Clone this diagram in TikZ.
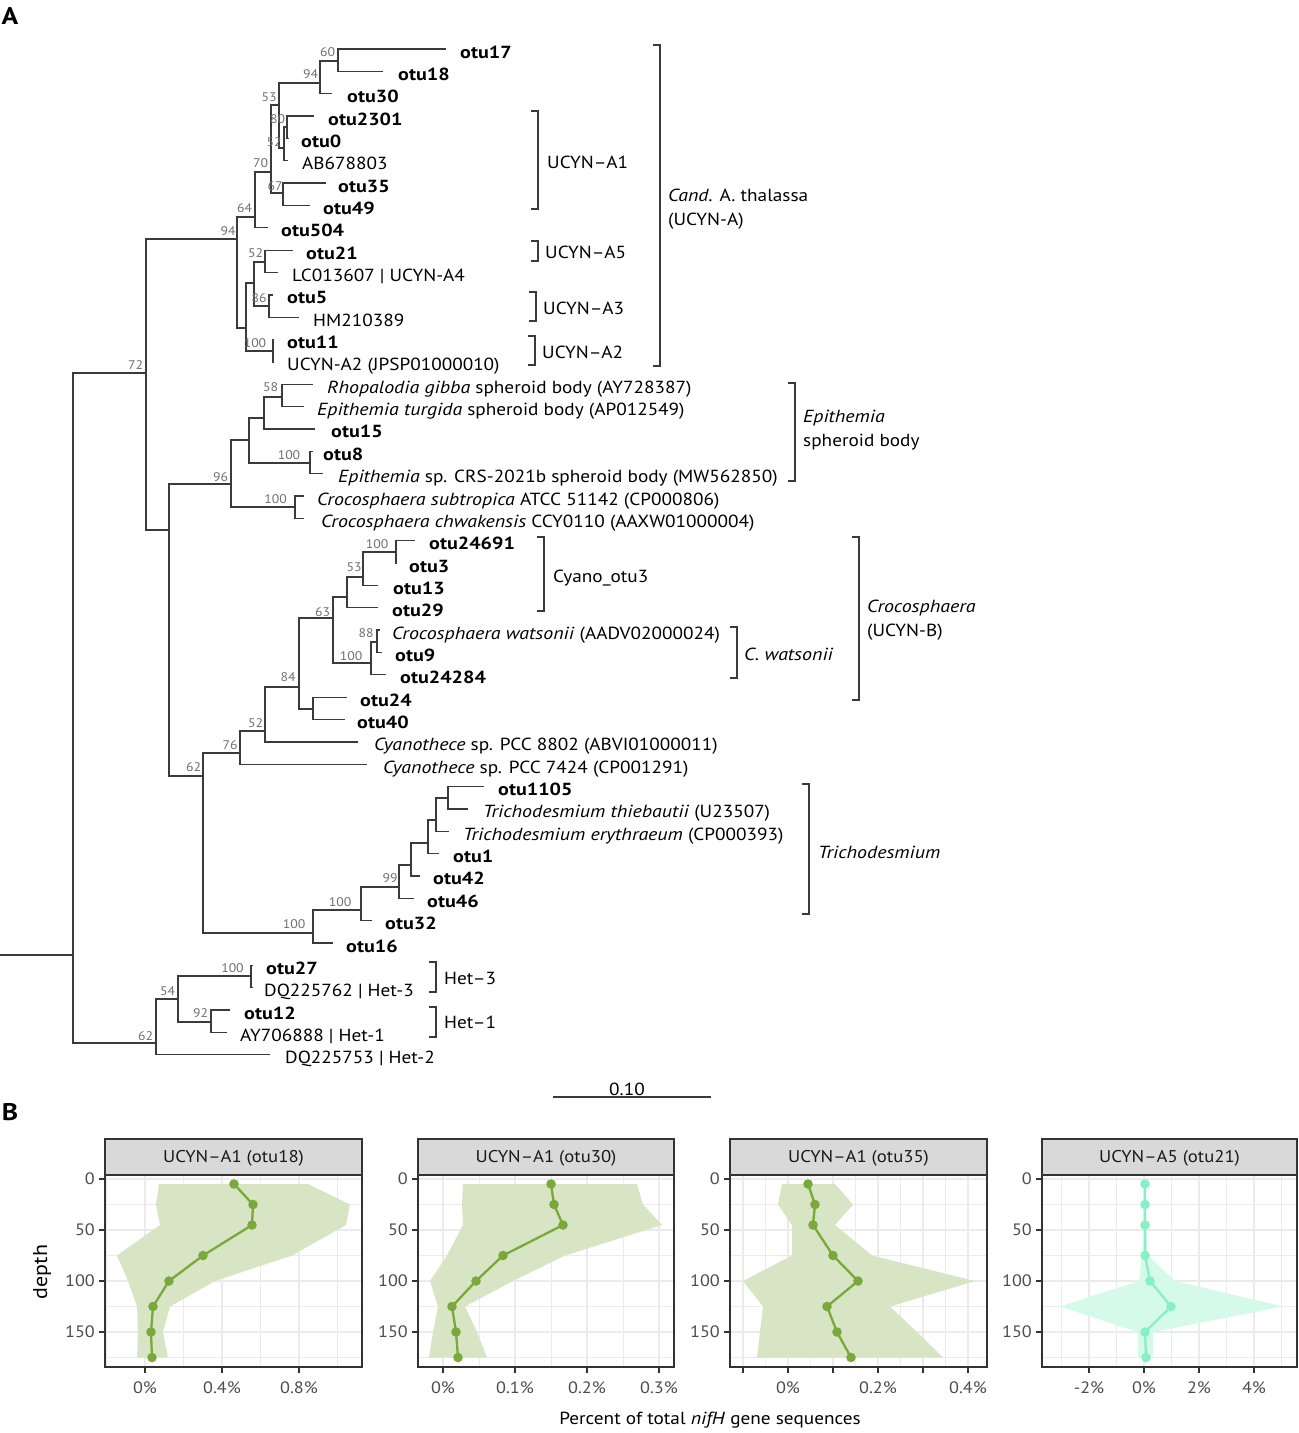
\documentclass[tikz,border=0pt]{standalone}
\usepackage{fontspec}
\setmainfont{PT Sans}[FakeStretch=1.1, BoldFeatures={FakeStretch=1.15}, ItalicFeatures={FakeStretch=1.14}]
\definecolor{brc}{HTML}{3A3A3A}
\definecolor{bootc}{HTML}{707070}
\definecolor{grn}{HTML}{7BA83B}
\definecolor{grnrib}{HTML}{D7E5C4}
\definecolor{mint}{HTML}{87F0C6}
\definecolor{mintrib}{HTML}{D6FAEA}
\definecolor{gridc}{HTML}{EBEBEB}
\definecolor{axc}{HTML}{4D4D4D}
\definecolor{frc}{HTML}{333333}
\definecolor{stripc}{HTML}{D9D9D9}
\newcommand\Tp[5]{%
  \coordinate (#1) at (#3,{49+22.35*#2});
  \node[tiplab] (#1l) at ({#3+#4},{58+22.35*#2}) {#5};}
\newcommand\In[3]{\coordinate (#1) at (#2,#3);}
\newcommand\Bs[4]{\node[boot] (#1) at (#2,#3) {#4};}
\newcommand\E[2]{\draw[br] (#1) |- (#2);}
\newcommand\Brk[3]{\draw[brk] ({#1-7},#2) -- (#1,#2) -- (#1,#3) -- ({#1-7},#3);}
\begin{document}
\begin{tikzpicture}[x=1pt,y=-1pt,
  br/.style={draw=brc, line width=1.3pt},
  brk/.style={draw=brc, line width=1.2pt},
  boot/.style={font=\fontsize{12.5}{13}\selectfont, text=bootc, inner sep=0},
  tiplab/.style={anchor=base west, inner sep=0, font=\fontsize{17.5}{20}\selectfont},
  grp/.style={anchor=base west, inner sep=0, font=\fontsize{17.5}{20}\selectfont},
  grp2/.style={anchor=west, inner sep=0, align=left, font=\fontsize{17.5}{24}\selectfont},
  gmaj/.style={draw=gridc, line width=1.3pt},
  gmin/.style={draw=gridc, line width=0.7pt},
  frame/.style={draw=frc, line width=1.1pt},
  tk/.style={draw=frc, line width=1.1pt},
  ylab/.style={anchor=east, inner sep=0, text=axc, font=\fontsize{16.5}{17}\selectfont},
  xlab/.style={anchor=center, inner sep=0, text=axc, font=\fontsize{16.5}{17}\selectfont},
  strip/.style={fill=stripc, draw=frc, line width=1.1pt},
  striptxt/.style={inner sep=0, text=black!90, font=\fontsize{17}{17}\selectfont},
  gline/.style={draw=grn, line width=2.3pt, line join=round},
  mline/.style={draw=mint, line width=2.3pt, line join=round},
]
\useasboundingbox (0,0) rectangle (1299,1433);
\fill[white] (0,0) rectangle (1299,1433);

% ---------------- panel letters
\node[inner sep=0, font=\fontsize{24}{24}\selectfont\bfseries] (lA) at (10,16) {A};
\node[inner sep=0, font=\fontsize{24}{24}\selectfont\bfseries] (lB) at (10,1112) {B};

% ---------------- tips
\Tp{t0}{0}{446}{14}{\bfseries otu17}
\Tp{t1}{1}{383}{15}{\bfseries otu18}
\Tp{t2}{2}{332}{15}{\bfseries otu30}
\Tp{t3}{3}{314}{14}{\bfseries otu2301}
\Tp{t4}{4}{289}{12}{\bfseries otu0}
\Tp{t5}{5}{288}{14}{AB678803}
\Tp{t6}{6}{326}{12}{\bfseries otu35}
\Tp{t7}{7}{310}{13}{\bfseries otu49}
\Tp{t8}{8}{268}{13}{\bfseries otu504}
\Tp{t9}{9}{293}{13}{\bfseries otu21}
\Tp{t10}{10}{278}{14}{LC013607 \textbar{} UCYN-A4}
\Tp{t11}{11}{273}{14}{\bfseries otu5}
\Tp{t12}{12}{299}{14}{HM210389}
\Tp{t13}{13}{274}{13}{\bfseries otu11}
\Tp{t14}{14}{274}{13}{UCYN-A2 (JPSP01000010)}
\Tp{t15}{15}{313}{14}{\textit{Rhopalodia gibba} spheroid body (AY728387)}
\Tp{t16}{16}{304}{13}{\textit{Epithemia turgida} spheroid body (AP012549)}
\Tp{t17}{17}{315}{16}{\bfseries otu15}
\Tp{t18}{18}{313}{10}{\bfseries otu8}
\Tp{t19}{19}{323}{15}{\textit{Epithemia} sp. CRS-2021b spheroid body (MW562850)}
\Tp{t20}{20}{304}{13}{\textit{Crocosphaera subtropica} ATCC 51142 (CP000806)}
\Tp{t21}{21}{304}{17}{\textit{Crocosphaera chwakensis} CCY0110 (AAXW01000004)}
\Tp{t22}{22}{415}{14}{\bfseries otu24691}
\Tp{t23}{23}{397}{12}{\bfseries otu3}
\Tp{t24}{24}{378}{15}{\bfseries otu13}
\Tp{t25}{25}{378}{14}{\bfseries otu29}
\Tp{t26}{26}{380}{12}{\textit{Crocosphaera watsonii} (AADV02000024)}
\Tp{t27}{27}{382}{13}{\bfseries otu9}
\Tp{t28}{28}{386}{14}{\bfseries otu24284}
\Tp{t29}{29}{347}{13}{\bfseries otu24}
\Tp{t30}{30}{345}{12}{\bfseries otu40}
\Tp{t31}{31}{358}{16}{\textit{Cyanothece} sp. PCC 8802 (ABVI01000011)}
\Tp{t32}{32}{367}{16}{\textit{Cyanothece} sp. PCC 7424 (CP001291)}
\Tp{t33}{33}{484}{14}{\bfseries otu1105}
\Tp{t34}{34}{468}{15}{\textit{Trichodesmium thiebautii} (U23507)}
\Tp{t35}{35}{449}{14}{\textit{Trichodesmium erythraeum} (CP000393)}
\Tp{t36}{36}{439}{14}{\bfseries otu1}
\Tp{t37}{37}{420}{13}{\bfseries otu42}
\Tp{t38}{38}{414}{13}{\bfseries otu46}
\Tp{t39}{39}{372}{13}{\bfseries otu32}
\Tp{t40}{40}{333}{13}{\bfseries otu16}
\Tp{t41}{41}{253}{13}{\bfseries otu27}
\Tp{t42}{42}{253}{11}{DQ225762 \textbar{} Het-3}
\Tp{t43}{43}{230}{14}{\bfseries otu12}
\Tp{t44}{44}{227}{13}{AY706888 \textbar{} Het-1}
\Tp{t45}{45}{270}{15}{DQ225753 \textbar{} Het-2}

% ---------------- internal nodes
\In{R0}{0}{955}
\In{R}{73}{955}
\In{n72}{146}{373}
\In{nA}{237}{239}
\In{n64}{255}{217}
\In{n70}{271}{172}
\In{n53}{279}{105}
\In{n94}{320}{83}
\In{n60}{338}{61}
\In{n52}{284}{148}
\In{n80}{287}{127}
\In{n67}{283}{193}
\In{nB}{246}{328}
\In{nC}{254}{283}
\In{n52b}{265}{262}
\In{n86}{269}{306}
\In{n100a}{273}{351}
\In{n169}{169}{530}
\In{n96}{231}{484}
\In{n249}{249}{440}
\In{n264}{264}{418}
\In{n58}{282}{397}
\In{n100c}{310}{463}
\In{n100d}{295}{507}
\In{n62}{203}{776}
\In{n76}{240}{753}
\In{n52c}{265}{731}
\In{n84}{299}{687}
\In{n313}{313}{709}
\In{n63}{333}{618}
\In{n347}{347}{597}
\In{n53c}{363}{577}
\In{n100g}{396}{552}
\In{n100f}{371}{663}
\In{n88}{377}{642}
\In{n100e}{313}{933}
\In{n100h}{361}{910}
\In{n99}{399}{887}
\In{n411}{411}{865}
\In{n428}{428}{843}
\In{n436}{436}{820}
\In{n448}{448}{798}
\In{n62b}{156}{1043}
\In{n54}{178}{999}
\In{n100i}{251}{976}
\In{n92}{211}{1022}

% ---------------- branches
\draw[br] (R0) -- (R);
\E{R}{n72}\E{R}{n62b}
\E{n72}{nA}\E{n72}{n169}
\E{nA}{n64}\E{nA}{nB}
\E{n64}{n70}\E{n64}{t8}
\E{n70}{n53}\E{n70}{n67}
\E{n53}{n94}\E{n53}{n52}
\E{n94}{n60}\E{n94}{t2}
\E{n60}{t0}\E{n60}{t1}
\E{n52}{n80}\E{n52}{t5}
\E{n80}{t3}\E{n80}{t4}
\E{n67}{t6}\E{n67}{t7}
\E{nB}{nC}\E{nB}{n100a}
\E{nC}{n52b}\E{nC}{n86}
\E{n52b}{t9}\E{n52b}{t10}
\E{n86}{t11}\E{n86}{t12}
\E{n100a}{t13}\E{n100a}{t14}
\E{n169}{n96}\E{n169}{n62}
\E{n96}{n249}\E{n96}{n100d}
\E{n249}{n264}\E{n249}{n100c}
\E{n264}{n58}\E{n264}{t17}
\E{n58}{t15}\E{n58}{t16}
\E{n100c}{t18}\E{n100c}{t19}
\E{n100d}{t20}\E{n100d}{t21}
\E{n62}{n76}\E{n62}{n100e}
\E{n76}{n52c}\E{n76}{t32}
\E{n52c}{n84}\E{n52c}{t31}
\E{n84}{n63}\E{n84}{n313}
\E{n313}{t29}\E{n313}{t30}
\E{n63}{n347}\E{n63}{n100f}
\E{n347}{n53c}\E{n347}{t25}
\E{n53c}{n100g}\E{n53c}{t24}
\E{n100g}{t22}\E{n100g}{t23}
\E{n100f}{n88}\E{n100f}{t28}
\E{n88}{t26}\E{n88}{t27}
\E{n100e}{n100h}\E{n100e}{t40}
\E{n100h}{n99}\E{n100h}{t39}
\E{n99}{n411}\E{n99}{t38}
\E{n411}{n428}\E{n411}{t37}
\E{n428}{n436}\E{n428}{t36}
\E{n436}{n448}\E{n436}{t35}
\E{n448}{t33}\E{n448}{t34}
\E{n62b}{n54}\E{n62b}{t45}
\E{n54}{n100i}\E{n54}{n92}
\E{n100i}{t41}\E{n100i}{t42}
\E{n92}{t43}\E{n92}{t44}

% ---------------- bootstrap values
\Bs{b1}{327.5}{52}{60}
\Bs{b2}{310.5}{74}{94}
\Bs{b3}{269}{97}{53}
\Bs{b4}{277.5}{119}{80}
\Bs{b5}{274}{142}{52}
\Bs{b6}{260.5}{163}{70}
\Bs{b7}{275}{186}{67}
\Bs{b8}{244.5}{208}{64}
\Bs{b9}{228}{231}{94}
\Bs{b10}{255.5}{253}{52}
\Bs{b11}{259}{298}{86}
\Bs{b12}{255}{343}{100}
\Bs{b13}{135.5}{365}{72}
\Bs{b14}{270.5}{387}{58}
\Bs{b15}{289}{455}{100}
\Bs{b16}{220.5}{477}{96}
\Bs{b17}{275.5}{499}{100}
\Bs{b18}{377}{544}{100}
\Bs{b19}{354}{567}{53}
\Bs{b20}{322.5}{612}{63}
\Bs{b21}{366}{633}{88}
\Bs{b22}{351}{656}{100}
\Bs{b23}{288}{677}{84}
\Bs{b24}{255.5}{723}{52}
\Bs{b25}{230}{745}{76}
\Bs{b26}{193.5}{767}{62}
\Bs{b27}{294}{924}{100}
\Bs{b28}{340}{902}{100}
\Bs{b29}{390}{878}{99}
\Bs{b30}{232.5}{968}{100}
\Bs{b31}{167.5}{991}{54}
\Bs{b32}{200.5}{1013}{92}
\Bs{b33}{145.5}{1036}{62}

% ---------------- brackets
\Brk{660}{45}{366}
\node[grp2] (gAll) at (668,209) {\textit{Cand.} A. thalassa\\(UCYN-A)};
\Brk{538}{111}{209}
\node[grp] (gA1) at (547,168) {UCYN--A1};
\Brk{538}{241}{261}
\node[grp] (gA5) at (545,258) {UCYN--A5};
\Brk{536}{292}{321}
\node[grp] (gA3) at (543,314) {UCYN--A3};
\Brk{535}{336}{365}
\node[grp] (gA2) at (542,358) {UCYN--A2};
\Brk{795}{383}{481}
\node[grp2] (gEp) at (803,430) {\textit{Epithemia}\\spheroid body};
\Brk{544}{537}{611}
\node[grp] (gCy) at (553,582) {Cyano\_otu3};
\Brk{737}{627}{678}
\node[grp] (gCw) at (744,660) {\textit{C. watsonii}};
\Brk{859}{537}{700}
\node[grp2] (gCr) at (867,620) {\textit{Crocosphaera}\\(UCYN-B)};
\Brk{809}{784}{914}
\node[grp] (gTr) at (818,858) {\textit{Trichodesmium}};
\Brk{436}{962}{992}
\node[grp] (gH3) at (444,984) {Het--3};
\Brk{436}{1007}{1037}
\node[grp] (gH1) at (444,1028) {Het--1};

% ---------------- scale bar
\coordinate (sb1) at (553,1097);
\coordinate (sb2) at (711,1097);
\draw[brk] (sb1) -- (sb2);
\node[inner sep=0, font=\fontsize{17.5}{18}\selectfont] (sbl) at (627,1089) {0.10};

% ================= panel B
\newcommand\HGrid[2]{%
  \foreach \gy in {1204.5,1255.5,1306.5,1357} \draw[gmin] (#1,\gy) -- (#2,\gy);
  \foreach \gy in {1179,1230,1281,1332} \draw[gmaj] (#1,\gy) -- (#2,\gy);}
\newcommand\YAx[1]{%
  \foreach \gy/\lab in {1179/0,1230/50,1281/100,1332/150} {
    \draw[tk] ({#1-6},\gy) -- (#1,\gy);
    \node[ylab] at ({#1-10},\gy) {\lab};}}

% ---- panel 1
\foreach \gx in {106.5,183.5,260.5,337.5} \draw[gmin] (\gx,1175) -- (\gx,1367);
\foreach \gx in {145,222,299} \draw[gmaj] (\gx,1175) -- (\gx,1367);
\HGrid{105}{362}
\fill[grnrib] (159,1184) -- (156,1204.5) -- (160,1225) -- (117,1255.5) -- (128,1281) -- (137,1306.5) -- (138,1332) -- (137,1357.5)
  -- (168,1357.5) -- (163,1332) -- (170,1306.5) -- (215,1281) -- (292,1255.5) -- (346,1225) -- (350,1204.5) -- (308,1184) -- cycle;
\draw[gline] (234,1184) -- (253,1204.5) -- (252,1225) -- (203,1255.5) -- (169,1281) -- (153,1306.5) -- (151,1332) -- (152,1357.5);
\foreach \p in {(234,1184),(253,1204.5),(252,1225),(203,1255.5),(169,1281),(153,1306.5),(151,1332),(152,1357.5)}
  \fill[grn] \p circle[radius=4.8pt];
\draw[frame] (105,1175) rectangle (362,1367);
\draw[strip] (105,1139) rectangle (362,1175);
\node[striptxt] (s1) at (233.5,1158) {UCYN--A1 (otu18)};
\YAx{105}
\foreach \gx/\lab in {145/0\%,222/0.4\%,299/0.8\%} {
  \draw[tk] (\gx,1367) -- (\gx,1373);
  \node[xlab] at (\gx,1388) {\lab};}

% ---- panel 2
\foreach \gx in {479,551,623} \draw[gmin] (\gx,1175) -- (\gx,1367);
\foreach \gx in {443,515,587,659} \draw[gmaj] (\gx,1175) -- (\gx,1367);
\HGrid{418}{674}
\fill[grnrib] (463,1184) -- (462,1204.5) -- (463,1225) -- (447,1255.5) -- (430,1281) -- (438,1306.5) -- (433,1332) -- (429,1357.5)
  -- (487,1357.5) -- (477,1332) -- (465,1306.5) -- (513,1281) -- (565,1255.5) -- (662,1225) -- (643,1204.5) -- (637,1184) -- cycle;
\draw[gline] (551,1184) -- (554,1204.5) -- (563,1225) -- (503,1255.5) -- (476,1281) -- (452,1306.5) -- (456,1332) -- (458,1357.5);
\foreach \p in {(551,1184),(554,1204.5),(563,1225),(503,1255.5),(476,1281),(452,1306.5),(456,1332),(458,1357.5)}
  \fill[grn] \p circle[radius=4.8pt];
\draw[frame] (418,1175) rectangle (674,1367);
\draw[strip] (418,1139) rectangle (674,1175);
\node[striptxt] (s2) at (546,1158) {UCYN--A1 (otu30)};
\YAx{418}
\foreach \gx/\lab in {443/0\%,515/0.1\%,587/0.2\%,659/0.3\%} {
  \draw[tk] (\gx,1367) -- (\gx,1373);
  \node[xlab] at (\gx,1388) {\lab};}

% ---- panel 3
\foreach \gx in {765.5,810.5,855.5,900.5,945.5} \draw[gmin] (\gx,1175) -- (\gx,1367);
\foreach \gx in {743,788,833,878,923,968} \draw[gmaj] (\gx,1175) -- (\gx,1367);
\HGrid{730}{987}
\fill[grnrib] (782,1184) -- (778,1204.5) -- (792,1225) -- (792,1255.5) -- (743,1281) -- (763,1306.5) -- (760,1332) -- (757,1357.5)
  -- (943,1357.5) -- (917,1332) -- (890,1306.5) -- (975,1281) -- (872,1255.5) -- (835,1225) -- (853,1204.5) -- (835,1184) -- cycle;
\draw[gline] (808,1184) -- (815,1204.5) -- (813,1225) -- (833,1255.5) -- (858,1281) -- (827,1306.5) -- (837,1332) -- (851,1357.5);
\foreach \p in {(808,1184),(815,1204.5),(813,1225),(833,1255.5),(858,1281),(827,1306.5),(837,1332),(851,1357.5)}
  \fill[grn] \p circle[radius=4.8pt];
\draw[frame] (730,1175) rectangle (987,1367);
\draw[strip] (730,1139) rectangle (987,1175);
\node[striptxt] (s3) at (858.5,1158) {UCYN--A1 (otu35)};
\YAx{730}
\foreach \gx in {743,833,923} \draw[tk] (\gx,1367) -- (\gx,1373);
\foreach \gx/\lab in {788/0\%,878/0.2\%,968/0.4\%} {
  \draw[tk] (\gx,1367) -- (\gx,1373);
  \node[xlab] at (\gx,1388) {\lab};}

% ---- panel 4
\foreach \gx in {1061.5,1116.5,1171.5,1226.5,1281.5} \draw[gmin] (\gx,1175) -- (\gx,1367);
\foreach \gx in {1089,1144,1199,1254} \draw[gmaj] (\gx,1175) -- (\gx,1367);
\HGrid{1042}{1297}
\fill[mintrib] (1144,1184) -- (1144,1204.5) -- (1144,1225) -- (1142,1255.5) -- (1139,1281) -- (1060,1306.5) -- (1138,1332) -- (1138,1357.5)
  -- (1153,1357.5) -- (1153,1332) -- (1283,1306.5) -- (1175,1281) -- (1148,1255.5) -- (1146,1225) -- (1146,1204.5) -- (1146,1184) -- cycle;
\draw[mline] (1145,1184) -- (1145,1204.5) -- (1145,1225) -- (1145,1255.5) -- (1150,1281) -- (1171,1306.5) -- (1145,1332) -- (1146,1357.5);
\foreach \p in {(1145,1184),(1145,1204.5),(1145,1225),(1145,1255.5),(1150,1281),(1171,1306.5),(1145,1332),(1146,1357.5)}
  \fill[mint] \p circle[radius=4.8pt];
\draw[frame] (1042,1175) rectangle (1297,1367);
\draw[strip] (1042,1139) rectangle (1297,1175);
\node[striptxt] (s4) at (1169.5,1158) {UCYN--A5 (otu21)};
\YAx{1042}
\foreach \gx/\lab in {1089/-2\%,1144/0\%,1199/2\%,1254/4\%} {
  \draw[tk] (\gx,1367) -- (\gx,1373);
  \node[xlab] at (\gx,1388) {\lab};}

% ---- axis titles
\node[rotate=90, inner sep=0, font=\fontsize{20}{20}\selectfont] (ytitle) at (42,1272) {depth};
\node[inner sep=0, font=\fontsize{17.5}{20}\selectfont] (xtitle) at (710,1420) {Percent of total \textit{nifH} gene sequences};
\end{tikzpicture}
\end{document}
